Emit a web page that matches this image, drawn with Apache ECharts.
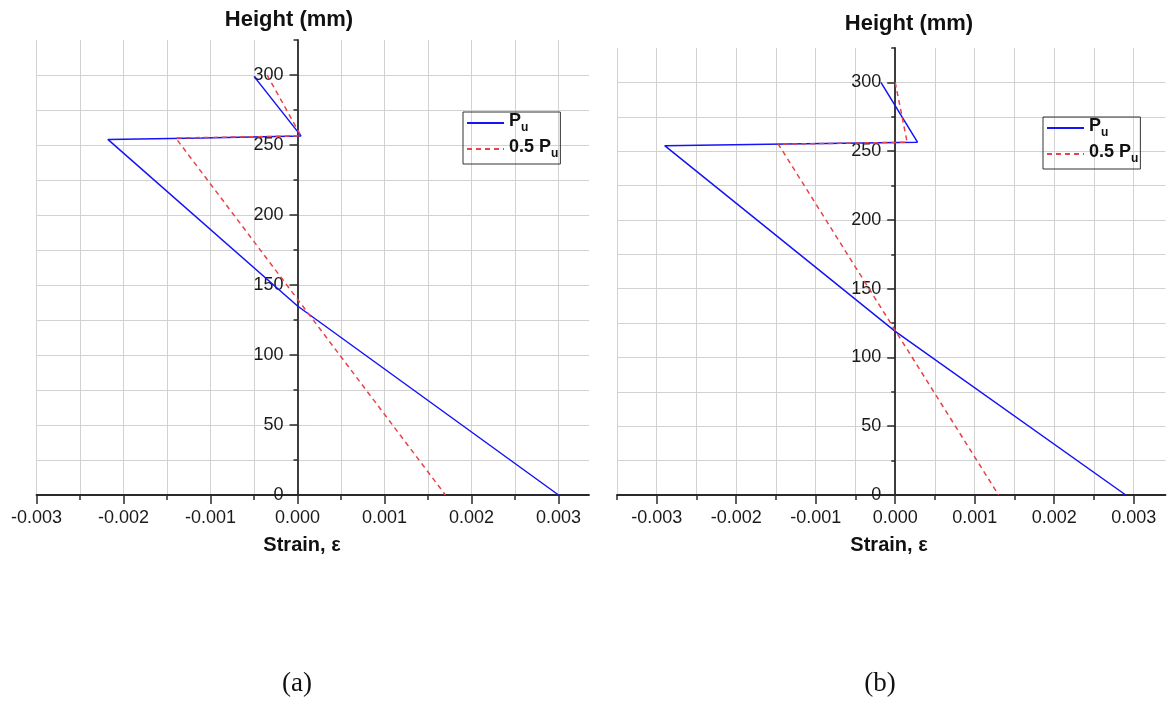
<!DOCTYPE html>
<html>
<head>
<meta charset="utf-8">
<script src="https://cdn.jsdelivr.net/npm/echarts@6/dist/echarts.min.js"></script>
<style>
  html, body { margin: 0; padding: 0; background: #ffffff; }
  #chart { width: 1168px; height: 708px; }
</style>
</head>
<body>
<div id="chart"></div>
<script>
// Strain profiles over the section height, panel (a)
const aPuStrain   = [-0.0005, 0.00004, -0.0011, -0.00218, 0.0, 0.003];
const aPuHeight   = [299, 256.5, 255, 254, 135, 0];
const aHalfStrain = [-0.00035, 0.00004, -0.0014, 0.0017];
const aHalfHeight = [300, 256.5, 255, 0];

// Strain profiles over the section height, panel (b)
const bPuStrain   = [-0.00018, 0.00028, -0.0016, -0.0029, 0.0, 0.0029];
const bPuHeight   = [300, 256.5, 255, 254, 119, 0];
const bHalfStrain = [0.0, 0.00015, -0.00147, 0.0013];
const bHalfHeight = [300, 256.5, 255, 0];

// Axis ticks and their labels
const strainTicks  = [-0.003, -0.002, -0.001, 0, 0.001, 0.002, 0.003];
const strainLabels = ['-0.003', '-0.002', '-0.001', '0.000', '0.001', '0.002', '0.003'];
const strainMinorTicks = [-0.0035, -0.0025, -0.0015, -0.0005, 0.0005, 0.0015, 0.0025];
const heightTicks  = [0, 50, 100, 150, 200, 250, 300];
const heightLabels = ['0', '50', '100', '150', '200', '250', '300'];

const seriesNames = ['Pu', '0.5 Pu'];

const FONT = "'Liberation Sans', Arial, sans-serif";
const AXIS_COLOR = '#2a2a2a';
const GRID_COLOR = '#d2d2d2';
const BLUE = '#1414f5';
const RED = '#e8434b';

const W = 1168;
// Plot frames: pixel box and strain range of each panel
const panels = [
  { left: 36.5, width: 552.5, top: 40, bottom: 213, min: -0.003, max: 0.00335 },
  { left: 617, width: 548.5, top: 48, bottom: 213, min: -0.0035, max: 0.0034 }
];

const zip = (xs, ys) => xs.map((x, i) => [x, ys[i]]);

function labelFor(values, labels) {
  return v => {
    const i = values.findIndex(t => Math.abs(t - v) < 1e-9);
    return i >= 0 ? labels[i] : '';
  };
}

// Shift that moves a left-side vertical axis onto strain = 0
function zeroOffset(p) {
  return -(0 - p.min) / (p.max - p.min) * p.width;
}

// Grid-line axis (every 0.0005, no marks of its own)
function gridX(grid, p) {
  return {
    type: 'value', gridIndex: grid, min: p.min, max: p.max, interval: 0.0005,
    position: 'bottom', offset: 0,
    axisLine: { show: false, onZero: false },
    axisTick: { show: false },
    axisLabel: { show: false },
    splitLine: { show: true, showMaxLine: false, lineStyle: { color: GRID_COLOR, width: 1 } }
  };
}
// Short minor ticks between the labelled ones
function minorX(grid, p) {
  return {
    type: 'value', gridIndex: grid, min: p.min, max: p.max,
    position: 'bottom', offset: 0,
    axisLine: { show: false, onZero: false },
    axisTick: {
      show: true, length: 5, lineStyle: { color: AXIS_COLOR, width: 1.5 },
      customValues: strainMinorTicks.filter(v => v >= p.min - 1e-9 && v <= p.max + 1e-9)
    },
    axisLabel: { show: false },
    splitLine: { show: false }
  };
}
// Axis line, major ticks and labels
function majorX(grid, p) {
  return {
    type: 'value', gridIndex: grid, min: p.min, max: p.max,
    position: 'bottom', offset: 0,
    axisLine: { show: true, onZero: false, lineStyle: { color: AXIS_COLOR, width: 1.8 } },
    axisTick: { show: true, length: 9, customValues: strainTicks, lineStyle: { color: AXIS_COLOR, width: 1.5 } },
    axisLabel: {
      show: true, customValues: strainTicks, margin: 14,
      fontFamily: FONT, fontSize: 18, color: '#1a1a1a',
      formatter: labelFor(strainTicks, strainLabels)
    },
    splitLine: { show: false }
  };
}
function minorY(grid, p) {
  return {
    type: 'value', gridIndex: grid, min: 0, max: 325, interval: 25,
    position: 'left', offset: zeroOffset(p),
    axisLine: { show: false, onZero: false },
    axisTick: { show: true, length: 4, lineStyle: { color: AXIS_COLOR, width: 1.5 } },
    axisLabel: { show: false },
    splitLine: { show: true, showMaxLine: false, lineStyle: { color: GRID_COLOR, width: 1 } }
  };
}
function majorY(grid, p) {
  return {
    type: 'value', gridIndex: grid, min: 0, max: 325,
    position: 'left', offset: zeroOffset(p),
    axisLine: { show: true, onZero: false, lineStyle: { color: AXIS_COLOR, width: 1.8 } },
    axisTick: { show: true, length: 8, customValues: heightTicks, lineStyle: { color: AXIS_COLOR, width: 1.5 } },
    axisLabel: {
      show: true, customValues: heightTicks, margin: 14,
      fontFamily: FONT, fontSize: 18, color: '#1a1a1a',
      formatter: labelFor(heightTicks, heightLabels)
    },
    splitLine: { show: false }
  };
}

function line(name, xi, yi, data, color, dashed) {
  return {
    name, type: 'line', xAxisIndex: xi, yAxisIndex: yi,
    data, symbol: 'none', showSymbol: false, animation: false,
    lineStyle: { color, width: 1.5, type: dashed ? [5, 4] : 'solid' },
    itemStyle: { color },
    z: dashed ? 4 : 3
  };
}

function legendAt(left, top) {
  return {
    left, top, orient: 'vertical',
    data: seriesNames,
    selectedMode: false,
    borderColor: '#333', borderWidth: 1,
    padding: [0, 2, 4, 3],
    itemWidth: 37, itemHeight: 14, itemGap: 4,
    itemStyle: { opacity: 0 },
    textStyle: {
      fontFamily: FONT, fontWeight: 'bold', fontSize: 18, color: '#111',
      rich: {
        b: { fontFamily: FONT, fontWeight: 'bold', fontSize: 18, lineHeight: 22, verticalAlign: 'top' },
        s: { fontFamily: FONT, fontWeight: 'bold', fontSize: 12, lineHeight: 12, verticalAlign: 'bottom' }
      }
    },
    formatter: n => n === 'Pu' ? '{b|P}{s|u}' : '{b|0.5 P}{s|u}'
  };
}

function text(str, x, y, size, bold, family) {
  return {
    type: 'text', x, y, silent: true,
    style: {
      text: str, fontSize: size, fontWeight: bold ? 'bold' : 'normal',
      fontFamily: family || FONT, fill: '#111',
      align: 'center', verticalAlign: 'middle'
    }
  };
}

const chart = echarts.init(document.getElementById('chart'), null, { renderer: 'canvas' });

chart.setOption({
  animation: false,
  backgroundColor: '#ffffff',
  grid: panels.map(p => ({
    left: p.left, right: W - p.left - p.width, top: p.top, bottom: p.bottom,
    containLabel: false, outerBoundsMode: 'none'
  })),
  xAxis: [
    gridX(0, panels[0]), minorX(0, panels[0]), majorX(0, panels[0]),
    gridX(1, panels[1]), minorX(1, panels[1]), majorX(1, panels[1])
  ],
  yAxis: [
    minorY(0, panels[0]), majorY(0, panels[0]),
    minorY(1, panels[1]), majorY(1, panels[1])
  ],
  legend: [legendAt(463, 112), legendAt(1043, 117)],
  series: [
    line('Pu', 2, 1, zip(aPuStrain, aPuHeight), BLUE, false),
    line('0.5 Pu', 2, 1, zip(aHalfStrain, aHalfHeight), RED, true),
    line('Pu', 5, 3, zip(bPuStrain, bPuHeight), BLUE, false),
    line('0.5 Pu', 5, 3, zip(bHalfStrain, bHalfHeight), RED, true)
  ],
  graphic: [
    text('Height (mm)', 289, 20, 22, true),
    text('Height (mm)', 909, 24, 22, true),
    text('Strain, ε', 302, 545, 20, true),
    text('Strain, ε', 889, 545, 20, true),
    text('(a)', 297, 684, 27, false, "'Liberation Serif', 'Times New Roman', serif"),
    text('(b)', 880, 684, 27, false, "'Liberation Serif', 'Times New Roman', serif")
  ]
});
</script>
</body>
</html>
